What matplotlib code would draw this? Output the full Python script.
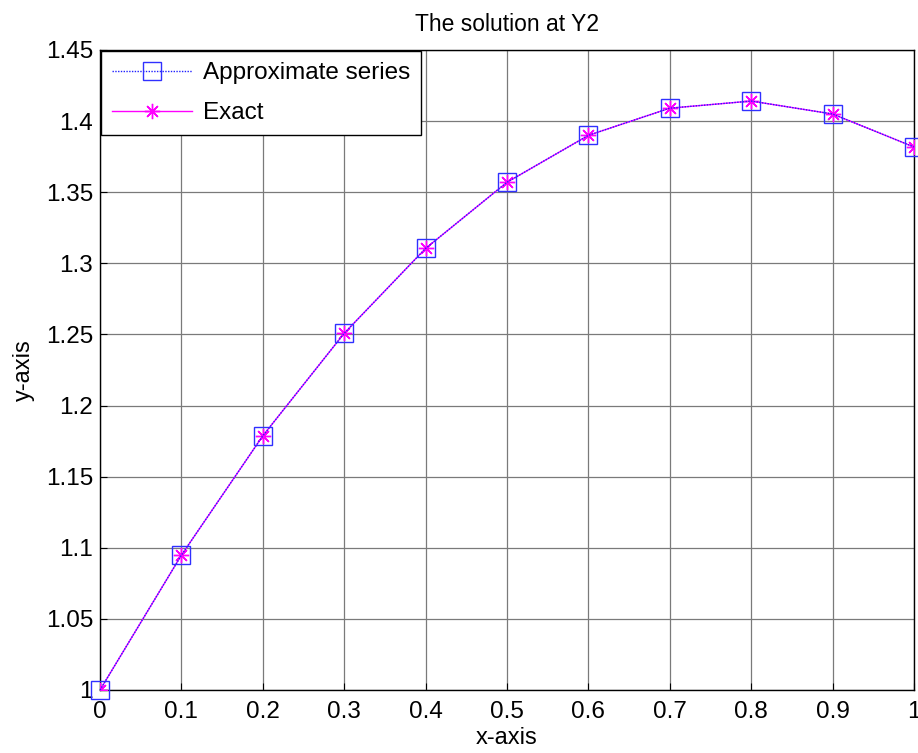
import matplotlib
matplotlib.use("Agg")
import matplotlib.pyplot as plt

x_vals = [0.0, 0.1, 0.2, 0.3, 0.4, 0.5, 0.6, 0.7, 0.8, 0.9, 1.0]
approx_vals = [1.0000, 1.0948, 1.1787, 1.2508, 1.3105, 1.3570, 1.3900, 1.4091, 1.4141, 1.4050, 1.3818]
exact_vals = [1.0000, 1.0948, 1.1787, 1.2508, 1.3105, 1.3570, 1.3900, 1.4091, 1.4141, 1.4050, 1.3818]
x_ticks = [0, 0.1, 0.2, 0.3, 0.4, 0.5, 0.6, 0.7, 0.8, 0.9, 1]
x_ticklabels = ["0", "0.1", "0.2", "0.3", "0.4", "0.5", "0.6", "0.7", "0.8", "0.9", "1"]
y_ticks = [1, 1.05, 1.1, 1.15, 1.2, 1.25, 1.3, 1.35, 1.4, 1.45]
y_ticklabels = ["1", "1.05", "1.1", "1.15", "1.2", "1.25", "1.3", "1.35", "1.4", "1.45"]

plt.rcParams['font.family'] = ['Liberation Sans', 'DejaVu Sans']

fig = plt.figure(figsize=(9.18, 7.53), dpi=100)
ax = fig.add_axes([100/918, 1-690/753, 814/918, 640/753])

ax.plot(x_vals, exact_vals, color='#ff00ff', lw=1.0, marker=(8, 2, 0), markersize=11,
        markerfacecolor='none', markeredgecolor='#ff00ff', label='Exact', zorder=3)
ax.plot(x_vals, approx_vals, color='#2020ff', lw=1.0, ls=(0, (1, 1)), marker='s', markersize=13,
        markerfacecolor='none', markeredgecolor='#3030ff', markeredgewidth=1.0,
        label='Approximate series', zorder=4, clip_on=False)

ax.set_xlim(0, 1)
ax.set_ylim(1, 1.45)
ax.set_xticks(x_ticks)
ax.set_xticklabels(x_ticklabels)
ax.set_yticks(y_ticks)
ax.set_yticklabels(y_ticklabels)
ax.tick_params(labelsize=17.5, direction='in', length=5)
ax.tick_params(axis='x', pad=8)
ax.tick_params(axis='y', pad=5)
ax.grid(True, color='#7a7a7a', lw=0.9, ls='-')
ax.set_axisbelow(True)
for s in ax.spines.values():
    s.set_linewidth(1.0)
    s.set_color('black')
ax.set_title('The solution at Y2', fontsize=16.5, pad=14)
ax.set_xlabel('x-axis', fontsize=17, labelpad=3)
ax.set_ylabel('y-axis', fontsize=17, labelpad=8)

handles, labels = ax.get_legend_handles_labels()
leg = ax.legend(handles[::-1], labels[::-1], loc='upper left', fontsize=17.5, frameon=True,
                fancybox=False, framealpha=1, edgecolor='black', borderpad=0.45,
                handlelength=3.3, handletextpad=0.45, borderaxespad=0.05, labelspacing=0.75)
leg.get_frame().set_linewidth(1.0)

fig.savefig('out.png', dpi=100)
